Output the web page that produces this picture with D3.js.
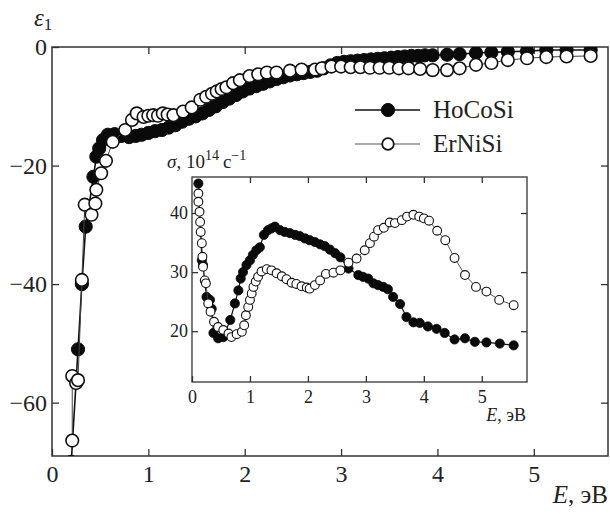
<!DOCTYPE html>
<html>
<head>
<meta charset="utf-8">
<script src="https://cdn.jsdelivr.net/npm/d3@7"></script>
<style>
  html, body { margin: 0; padding: 0; background: #fff; }
  svg { display: block; }
  text { font-family: "Liberation Serif", serif; fill: #222; }
</style>
</head>
<body>
<div id="chart"></div>
<script>
// Real part of dielectric function, eps1(E)
const mainE_HoCoSi = [0.20,0.27,0.31,0.35,0.43,0.46,0.49,0.53,0.58,0.65,0.72,0.80,0.87,0.93,1.00,1.07,1.14,1.21,1.28,1.35,1.42,1.49,1.56,1.63,1.70,1.77,1.84,1.91,1.98,2.05,2.12,2.19,2.26,2.33,2.40,2.47,2.54,2.61,2.68,2.75,2.82,2.89,2.96,3.03,3.10,3.17,3.24,3.31,3.38,3.45,3.52,3.59,3.66,3.73,3.80,3.87,3.95,4.10,4.23,4.40,4.56,4.73,4.93,5.13,5.34,5.59];
const mainV_HoCoSi = [-70,-51,-40,-30.3,-21.9,-18.5,-17.1,-15.7,-14.8,-14.7,-15.0,-15.2,-15.0,-14.8,-14.5,-14.2,-14.0,-13.6,-13.2,-12.6,-12.1,-11.7,-11.2,-10.6,-10.0,-9.3,-8.7,-8.1,-7.5,-7.0,-6.6,-6.2,-5.8,-5.4,-5.1,-4.8,-4.6,-4.4,-4.2,-4.0,-3.6,-3.1,-2.7,-2.5,-2.4,-2.3,-2.2,-2.1,-2.0,-1.9,-1.8,-1.7,-1.6,-1.5,-1.5,-1.4,-1.4,-1.3,-1.2,-1.0,-0.9,-0.8,-0.7,-0.5,-0.5,-0.5];

const mainE_ErNiSi = [0.21,0.21,0.25,0.27,0.31,0.34,0.41,0.45,0.46,0.51,0.56,0.63,0.76,0.83,0.88,0.95,1.00,1.05,1.10,1.15,1.20,1.26,1.36,1.45,1.54,1.60,1.66,1.71,1.76,1.81,1.88,1.95,2.05,2.14,2.23,2.33,2.47,2.59,2.73,2.80,2.90,3.00,3.10,3.20,3.30,3.40,3.50,3.60,3.70,3.82,3.95,4.10,4.23,4.40,4.56,4.73,4.93,5.13,5.34,5.59];
const mainV_ErNiSi = [-66.4,-55.5,-56.7,-56.2,-39.3,-26.6,-28.3,-26.4,-24.1,-21.3,-19.2,-16.0,-14.0,-12.3,-11.2,-11.8,-11.6,-11.5,-11.6,-11.2,-11.4,-11.5,-10.9,-10.2,-8.9,-8.4,-7.9,-7.5,-7.1,-6.8,-6.1,-5.6,-4.9,-4.6,-4.3,-4.3,-4.0,-3.8,-3.8,-3.6,-3.3,-3.3,-3.4,-3.4,-3.5,-3.5,-3.5,-3.6,-3.6,-3.7,-3.9,-3.9,-3.6,-3.0,-2.7,-2.2,-1.9,-1.7,-1.6,-1.5];

// Optical conductivity sigma(E), 10^14 c^-1
const insetE_HoCoSi = [0.11,0.17,0.19,0.25,0.31,0.34,0.37,0.45,0.54,0.66,0.74,0.80,0.84,0.88,0.94,1.00,1.05,1.11,1.17,1.24,1.31,1.37,1.43,1.52,1.60,1.69,1.78,1.86,1.95,2.03,2.12,2.21,2.29,2.38,2.47,2.56,2.70,2.87,2.95,3.04,3.13,3.21,3.30,3.38,3.47,3.59,3.70,3.82,3.93,4.07,4.22,4.36,4.53,4.71,4.88,5.08,5.31,5.55];
const insetV_HoCoSi = [45.0,32.0,31.2,25.8,25.3,23.8,19.7,18.8,19.0,21.9,24.7,26.9,28.9,30.0,31.2,32.0,32.9,33.7,34.2,36.3,37.1,37.4,37.7,37.1,36.8,36.6,36.3,36.1,35.7,35.4,35.1,34.7,34.4,33.8,33.2,32.5,30.6,29.5,29.2,28.9,28.1,27.8,27.5,27.1,25.8,24.6,22.4,21.5,21.4,20.8,20.4,19.7,18.6,18.8,18.2,18.1,17.9,17.6];

const insetE_ErNiSi = [0.11,0.11,0.13,0.14,0.15,0.17,0.18,0.19,0.22,0.24,0.28,0.32,0.38,0.45,0.54,0.63,0.68,0.77,0.86,0.90,0.93,0.97,1.00,1.03,1.06,1.10,1.14,1.20,1.29,1.37,1.46,1.55,1.63,1.72,1.80,1.89,1.98,2.03,2.12,2.21,2.31,2.44,2.56,2.70,2.84,2.98,3.07,3.14,3.21,3.31,3.41,3.50,3.62,3.71,3.82,3.92,4.00,4.09,4.23,4.37,4.53,4.71,4.90,5.08,5.30,5.55];
const insetV_ErNiSi = [43.3,41.9,40.2,38.5,36.8,34.9,32.6,30.9,28.6,28.1,24.7,23.3,21.6,20.7,20.2,19.6,19.0,19.5,19.9,21.0,22.7,24.1,25.3,26.4,27.5,28.4,29.2,30.1,30.5,30.3,29.8,29.3,28.8,28.2,28.0,27.6,27.4,27.2,27.8,28.6,29.7,29.9,30.3,31.6,32.3,33.7,34.9,36.0,37.1,37.5,38.4,38.3,38.8,39.4,39.7,39.4,39.1,38.7,37.0,35.4,32.4,29.5,27.5,26.7,25.3,24.4];

const seriesNames = ["HoCoSi", "ErNiSi"];
const mainXTicks = [0, 1, 2, 3, 4, 5];
const mainYTicks = [0, -20, -40, -60];
const insetXTicks = [0, 1, 2, 3, 4, 5];
const insetYTicks = [20, 30, 40];

const W = 610, H = 515;
const FONT = "Liberation Serif, serif";
const svg = d3.select("#chart").append("svg").attr("width", W).attr("height", H);

const zip = (xs, ys) => xs.map((x, i) => ({ x, y: ys[i] }));
const fmt = v => (v < 0 ? "\u2212" + Math.abs(v) : String(v));

// ---------- main panel ----------
const x = d3.scaleLinear().domain([0, 5.77]).range([52, 608]);
const y = d3.scaleLinear().domain([-69, 0]).range([456, 47]);

svg.append("clipPath").attr("id", "clipMain")
  .append("rect").attr("x", 52).attr("y", 47).attr("width", 556).attr("height", 409);

function styleAxis(g, fs) {
  g.select(".domain").remove();
  g.selectAll(".tick line").attr("stroke", "#333").attr("stroke-width", 1.3);
  g.selectAll(".tick text").attr("font-size", fs).attr("fill", "#222").attr("font-family", FONT);
}

const axB = svg.append("g").attr("transform", `translate(0,456)`)
  .call(d3.axisBottom(x).tickValues(mainXTicks).tickFormat(fmt).tickSizeInner(-7).tickSizeOuter(0).tickPadding(9));
styleAxis(axB, 24);
const axT = svg.append("g").attr("transform", `translate(0,47)`)
  .call(d3.axisTop(x).tickValues(mainXTicks.slice(1)).tickFormat("").tickSizeInner(-7).tickSizeOuter(0));
styleAxis(axT, 24);
const axL = svg.append("g").attr("transform", `translate(52,0)`)
  .call(d3.axisLeft(y).tickValues(mainYTicks).tickFormat(fmt).tickSizeInner(-7).tickSizeOuter(0).tickPadding(5));
styleAxis(axL, 24);
const axR = svg.append("g").attr("transform", `translate(608,0)`)
  .call(d3.axisRight(y).tickValues(mainYTicks.slice(1)).tickFormat("").tickSizeInner(-7).tickSizeOuter(0));
styleAxis(axR, 24);

svg.append("rect").attr("x", 52).attr("y", 47).attr("width", 556).attr("height", 409)
  .attr("fill", "none").attr("stroke", "#333").attr("stroke-width", 1.5);

const lineMain = d3.line().x(d => x(d.x)).y(d => y(d.y));
const gMain = svg.append("g").attr("clip-path", "url(#clipMain)");
const mainHo = zip(mainE_HoCoSi, mainV_HoCoSi);
const mainEr = zip(mainE_ErNiSi, mainV_ErNiSi);

gMain.append("path").datum(mainHo).attr("d", lineMain)
  .attr("fill", "none").attr("stroke", "#111").attr("stroke-width", 1.6);
gMain.selectAll("circle.ho").data(mainHo).join("circle").attr("class", "ho")
  .attr("cx", d => x(d.x)).attr("cy", d => y(d.y)).attr("r", 6.6)
  .attr("fill", "#0a0a0a").attr("stroke", "#0a0a0a").attr("stroke-width", 1);
gMain.append("path").datum(mainEr).attr("d", lineMain)
  .attr("fill", "none").attr("stroke", "#444").attr("stroke-width", 1);
gMain.selectAll("circle.er").data(mainEr).join("circle").attr("class", "er")
  .attr("cx", d => x(d.x)).attr("cy", d => y(d.y)).attr("r", 6.3)
  .attr("fill", "#fff").attr("stroke", "#111").attr("stroke-width", 1.6);

// axis titles
const eps = svg.append("text").attr("x", 34).attr("y", 26).attr("font-size", 25);
eps.append("tspan").attr("font-style", "italic").text("\u03B5");
eps.append("tspan").attr("font-size", 17).attr("dy", 4).text("1");

const xt = svg.append("text").attr("x", 608).attr("y", 503).attr("text-anchor", "end").attr("font-size", 25);
xt.append("tspan").attr("font-style", "italic").text("E");
xt.append("tspan").text(", эВ");

// legend
const leg = svg.append("g");
[0, 1].forEach(i => {
  const ly = 110 + i * 34;
  leg.append("line").attr("x1", 355).attr("x2", 420).attr("y1", ly).attr("y2", ly)
    .attr("stroke", i === 0 ? "#111" : "#555").attr("stroke-width", i === 0 ? 1.6 : 1);
  leg.append("circle").attr("cx", 388).attr("cy", ly).attr("r", i === 0 ? 6.6 : 5.8)
    .attr("fill", i === 0 ? "#0a0a0a" : "#fff").attr("stroke", "#111").attr("stroke-width", i === 0 ? 1 : 1.8);
  leg.append("text").attr("x", 433).attr("y", ly + 8).attr("font-size", 25).text(seriesNames[i]);
});

// ---------- inset panel ----------
const xi = d3.scaleLinear().domain([0, 5.78]).range([192, 527]);
const yi = d3.scaleLinear().domain([11.4, 46.1]).range([382, 177]);

svg.append("rect").attr("x", 192).attr("y", 177).attr("width", 335).attr("height", 205).attr("fill", "#fff");

const iB = svg.append("g").attr("transform", `translate(0,382)`)
  .call(d3.axisBottom(xi).tickValues(insetXTicks).tickFormat(fmt).tickSizeInner(-6).tickSizeOuter(0).tickPadding(8));
styleAxis(iB, 18);
const iT = svg.append("g").attr("transform", `translate(0,177)`)
  .call(d3.axisTop(xi).tickValues(insetXTicks.slice(1)).tickFormat("").tickSizeInner(-6).tickSizeOuter(0));
styleAxis(iT, 18);
const iL = svg.append("g").attr("transform", `translate(192,0)`)
  .call(d3.axisLeft(yi).tickValues(insetYTicks).tickFormat(fmt).tickSizeInner(-6).tickSizeOuter(0).tickPadding(4));
styleAxis(iL, 18);
const iR = svg.append("g").attr("transform", `translate(527,0)`)
  .call(d3.axisRight(yi).tickValues(insetYTicks).tickFormat("").tickSizeInner(-6).tickSizeOuter(0));
styleAxis(iR, 18);

svg.append("rect").attr("x", 192).attr("y", 177).attr("width", 335).attr("height", 205)
  .attr("fill", "none").attr("stroke", "#333").attr("stroke-width", 1.3);

const lineIn = d3.line().x(d => xi(d.x)).y(d => yi(d.y));
const inHo = zip(insetE_HoCoSi, insetV_HoCoSi);
const inEr = zip(insetE_ErNiSi, insetV_ErNiSi);
const gIn = svg.append("g");
gIn.append("path").datum(inHo).attr("d", lineIn)
  .attr("fill", "none").attr("stroke", "#111").attr("stroke-width", 1.2);
gIn.selectAll("circle.ho").data(inHo).join("circle").attr("class", "ho")
  .attr("cx", d => xi(d.x)).attr("cy", d => yi(d.y)).attr("r", 4.6)
  .attr("fill", "#0a0a0a").attr("stroke", "#0a0a0a").attr("stroke-width", 0.8);
gIn.append("path").datum(inEr).attr("d", lineIn)
  .attr("fill", "none").attr("stroke", "#444").attr("stroke-width", 0.9);
gIn.selectAll("circle.er").data(inEr).join("circle").attr("class", "er")
  .attr("cx", d => xi(d.x)).attr("cy", d => yi(d.y)).attr("r", 4.4)
  .attr("fill", "#fff").attr("stroke", "#111").attr("stroke-width", 1.1);

// inset titles
const sg = svg.append("text").attr("x", 167).attr("y", 168).attr("font-size", 19);
sg.append("tspan").attr("font-style", "italic").text("\u03C3");
sg.append("tspan").text(", 10");
sg.append("tspan").attr("font-size", 14).attr("dy", -8).text("14");
sg.append("tspan").attr("dy", 8).attr("dx", 4).text("c");
sg.append("tspan").attr("font-size", 14).attr("dy", -8).text("\u22121");

const xi_t = svg.append("text").attr("x", 526).attr("y", 421).attr("text-anchor", "end").attr("font-size", 18);
xi_t.append("tspan").attr("font-style", "italic").text("E");
xi_t.append("tspan").text(", эВ");
</script>
</body>
</html>
